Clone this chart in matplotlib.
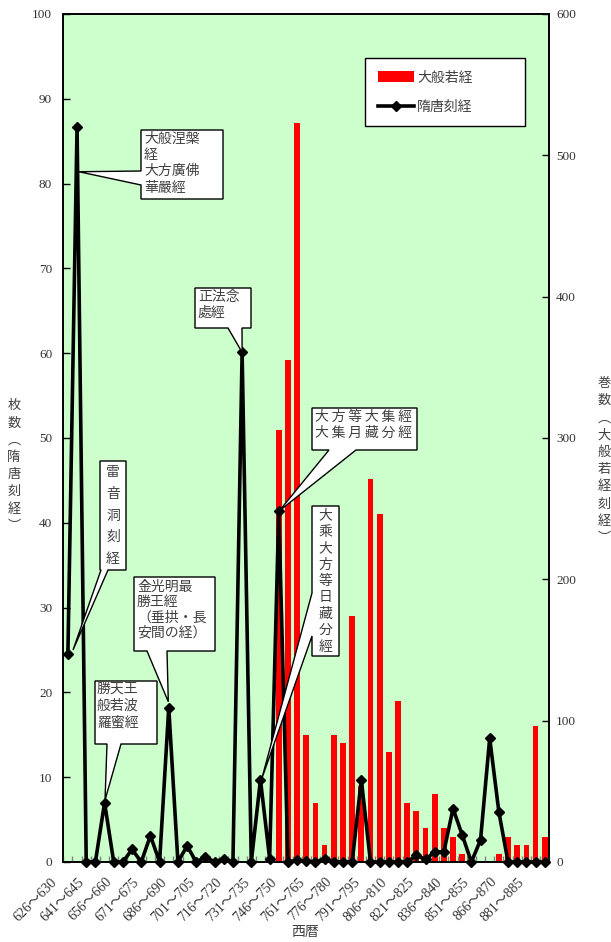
import matplotlib
matplotlib.use("Agg")
import matplotlib.pyplot as plt
import numpy as np
from matplotlib.patches import Polygon, Patch
from matplotlib.lines import Line2D
from matplotlib.transforms import ScaledTranslation, IdentityTransform

# ---------------- data ----------------
start_years = list(range(626, 891, 5))
categories = [f"{y}～{y + 4}" for y in start_years]

# 枚数（隋唐刻経） left axis
sui_tang_sheets = [
    24.5, 86.7, 0, 0, 7.0, 0, 0, 1.5, 0, 3.1,
    0, 18.2, 0, 1.9, 0, 0.6, 0, 0.4, 0, 60.1,
    0, 9.7, 0.4, 41.4, 0, 0.2, 0.1, 0, 0.4, 0,
    0, 0, 9.7, 0, 0, 0, 0, 0, 0.8, 0.3,
    1.2, 1.2, 6.3, 3.2, 0, 2.6, 14.6, 5.9, 0, 0,
    0, 0, 0,
]

# 巻数（大般若経刻経） right axis
daihannya_volumes = [
    0, 0, 0, 0, 0, 0, 0, 0, 0, 0,
    0, 0, 0, 0, 0, 0, 0, 0, 0, 0,
    0, 0, 0, 306, 355, 523, 90, 42, 12, 90,
    84, 174, 54, 271, 246, 78, 114, 42, 36, 24,
    48, 24, 18, 6, 0, 0, 0, 6, 18, 12,
    12, 96, 18,
]

left_ticks = list(range(0, 101, 10))
right_ticks = list(range(0, 601, 100))
series_names = ["大般若経", "隋唐刻経"]
left_label = "枚数︵隋唐刻経︶"
right_label = "巻数︵大般若経刻経︶"
x_label = "西暦"

# ---------------- layout ----------------
W, H, DPI = 611, 942, 100
CJK = ["Noto Sans CJK JP", "DejaVu Sans"]
NUM = ["Liberation Serif", "Noto Sans CJK JP"]
TXT = "#404040"

fig = plt.figure(figsize=(W / DPI, H / DPI), dpi=DPI)
L, R, B, T = 63.3, 549.3, 862.0, 14.0
ax1 = fig.add_axes([L / W, 1 - B / H, (R - L) / W, (B - T) / H])
ax2 = ax1.twinx()
ax1.set_zorder(ax2.get_zorder() + 1)
ax1.patch.set_visible(False)
ax2.patch.set_visible(True)
ax2.set_facecolor("#CCFFCC")

x = np.arange(len(categories))
ax2.bar(x, daihannya_volumes, width=0.62, color="#FF0000", zorder=2)
ax1.plot(x, sui_tang_sheets, color="black", lw=2.6, marker="D", ms=5.5,
         clip_on=False, zorder=3)

ax1.set_xlim(-0.5, len(categories) - 0.5)
ax1.set_ylim(0, 100)
ax2.set_ylim(0, 600)

ax1.set_yticks(left_ticks)
ax1.set_yticklabels([str(v) for v in left_ticks], family=NUM, fontsize=9.5, color="#333333")
ax2.set_yticks(right_ticks)
ax2.set_yticklabels([str(v) for v in right_ticks], family=NUM, fontsize=9.5, color="#333333")
ax1.tick_params(axis="y", direction="in", length=5, width=1, pad=8)
ax2.tick_params(axis="y", direction="in", length=5, width=1, pad=5)

ax1.set_xticks(x[::3])
ax1.set_xticklabels(categories[::3], family=NUM, fontsize=10, color="#333333",
                    rotation=45, ha="right", va="center", rotation_mode="anchor")
ax1.set_xticks(np.arange(-0.5, len(categories), 1), minor=True)
ax1.tick_params(axis="x", which="major", length=0, pad=0)
ax1.tick_params(axis="x", which="minor", direction="in", length=4, width=1, color="#808080")
off = ScaledTranslation(-13 / DPI, -18 / DPI, fig.dpi_scale_trans)
for lab in ax1.get_xticklabels():
    lab.set_transform(lab.get_transform() + off)

for ax in (ax1, ax2):
    for s in ax.spines.values():
        s.set_color("black")
        s.set_linewidth(1.2)

# axis titles (vertical stacked)
fig.text(14 / W, 1 - 466 / H, "\n".join(left_label), family=CJK, fontsize=9.5,
         color=TXT, ha="center", va="center", linespacing=1.42)
fig.text(604 / W, 1 - 461 / H, "\n".join(right_label), family=CJK, fontsize=9.5,
         color=TXT, ha="center", va="center", linespacing=1.42)
fig.text(305 / W, 1 - 932 / H, x_label, family=CJK, fontsize=10,
         color=TXT, ha="center", va="center")

# legend
handles = [Patch(facecolor="#FF0000", edgecolor="none"),
           Line2D([], [], color="black", lw=2.6, marker="D", ms=5.5)]
leg = ax1.legend(handles, series_names, loc="upper left",
                 bbox_to_anchor=(365 / W, 1 - 125 / H, 160 / W, 67 / H),
                 bbox_transform=fig.transFigure, mode="expand",
                 frameon=True, fancybox=False, framealpha=1, edgecolor="black",
                 borderpad=0.9, labelspacing=1.1, handlelength=2.6, handleheight=0.8,
                 handletextpad=0.25, borderaxespad=0,
                 prop={"family": CJK, "size": 10})
leg.get_frame().set_linewidth(1.0)
for t in leg.get_texts():
    t.set_color(TXT)


# ---------------- callouts ----------------
def callout(text, box, edge, base, apex, text_xy, fs=10, ls=1.3,
            ha="left", va="top"):
    x0, y0, x1, y1 = box
    d = ax1.transData.transform(apex)
    ap = (d[0], H - d[1])
    TL, TR, BR, BL = (x0, y0), (x1, y0), (x1, y1), (x0, y1)
    if edge == "bottom":
        b0, b1 = base
        pts = [TL, TR, BR, (b1, y1), ap, (b0, y1), BL]
    else:  # left
        b0, b1 = base
        pts = [TL, TR, BR, BL, (x0, b1), ap, (x0, b0)]
    disp = [(p[0], H - p[1]) for p in pts]
    fig.add_artist(Polygon(disp, closed=True, facecolor="white", edgecolor="black",
                           lw=1.0, transform=IdentityTransform(), zorder=10))
    fig.text(text_xy[0] / W, 1 - text_xy[1] / H, text, family=CJK, fontsize=fs,
             color=TXT, ha=ha, va=va, linespacing=ls, zorder=11)


callout("大般涅槃\n経\n大方廣佛\n華嚴經", (141, 130, 223, 199), "left", (171, 185),
        (1.2, 81.4), (144, 132), ls=1.2)
callout("正法念\n處經", (195, 288, 251, 328), "bottom", (228, 242),
        (19, 60.1), (198, 290), ls=1.15)
callout("\n".join("雷音洞刻経"), (100, 461, 126, 570), "bottom", (101, 108),
        (0.56, 25.0), (113, 515.5), ls=1.7, ha="center", va="center")
callout("金光明最\n勝王經\n（垂拱・長\n安間の経）", (134, 577, 215, 651), "bottom",
        (147, 167), (10.95, 18.9), (137, 580), ls=1.1)
callout("勝天王\n般若波\n羅蜜經", (95, 681, 157, 744), "bottom", (107, 121),
        (4.05, 7.3), (97, 682), ls=1.25)
callout("大\u2009方\u2009等\u2009大\u2009集\u2009經\n大\u2009集\u2009月\u2009藏\u2009分\u2009經",
        (312, 408, 417, 450), "bottom", (329, 356), (23.05, 41.4), (315, 410), ls=1.15)
callout("\n".join("大乘大方等日藏分經"), (312, 506, 339, 656), "left", (593, 636),
        (21.14, 9.8), (325.7, 581), ls=1.22, ha="center", va="center")

fig.savefig("out.png", dpi=DPI, facecolor="white")
